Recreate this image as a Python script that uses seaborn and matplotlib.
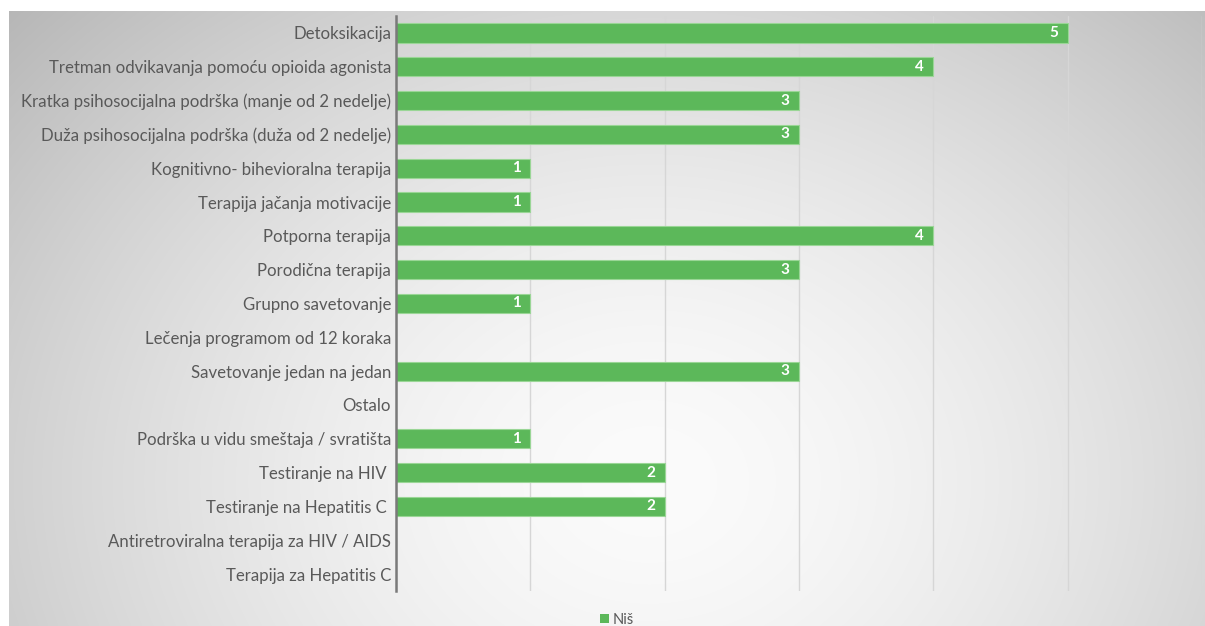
import numpy as np
import pandas as pd
import matplotlib
matplotlib.use("Agg")
import matplotlib.pyplot as plt
from matplotlib.patches import Patch
import seaborn as sns

categories = [
    "Detoksikacija",
    "Tretman odvikavanja pomoću opioida agonista",
    "Kratka psihosocijalna podrška (manje od 2 nedelje)",
    "Duža psihosocijalna podrška (duža od 2 nedelje)",
    "Kognitivno- bihevioralna terapija",
    "Terapija jačanja motivacije",
    "Potporna terapija",
    "Porodična terapija",
    "Grupno savetovanje",
    "Lečenja programom od 12 koraka",
    "Savetovanje jedan na jedan",
    "Ostalo",
    "Podrška u vidu smeštaja / svratišta",
    "Testiranje na HIV ",
    "Testiranje na Hepatitis C ",
    "Antiretroviralna terapija za HIV / AIDS",
    "Terapija za Hepatitis C",
]
values_nis = [5, 4, 3, 3, 1, 1, 4, 3, 1, np.nan, 3, np.nan, 1, 2, 2, np.nan, np.nan]
series_name = "Niš"

df = pd.DataFrame({"kategorija": categories, "broj": values_nis})

sns.set_theme(style="white")
plt.rcParams["font.family"] = ["Lato", "DejaVu Sans"]

W, H = 1205, 626
fig = plt.figure(figsize=(W / 100, H / 100), dpi=100)
fig.patch.set_facecolor("white")

# radial grey-to-white backdrop of the chart area
bg = fig.add_axes([9 / W, 0, 1 - 9 / W, 1 - 11 / H])
bg.set_axis_off()
yy, xx = np.mgrid[0:615, 0:1196]
cx, cy = 640, 470
d = np.sqrt(((xx - cx) / 760.0) ** 2 + ((yy - cy) / 620.0) ** 2)
shade = 0.985 - 0.22 * np.clip(d, 0, 1.2) ** 1.6
img = np.dstack([shade, shade, shade])
bg.imshow(img, aspect="auto", extent=[0, 1, 0, 1], origin="upper", interpolation="bilinear")
bg.set_xlim(0, 1)
bg.set_ylim(0, 1)

ax = fig.add_axes([396 / W, 1 - 591 / H, (1202 - 396) / W, (591 - 16) / H])
ax.patch.set_alpha(0)

green = "#5cb85a"
sns.barplot(data=df, y="kategorija", x="broj", order=categories, orient="h",
            color=green, saturation=1, width=0.57, edgecolor="#9ad696",
            linewidth=0.8, ax=ax, errorbar=None)

ax.set_xlim(0, 6)
ax.set_xticks(range(0, 7))
ax.xaxis.grid(True, color="#d6d6d6", linewidth=1)
ax.set_axisbelow(True)
ax.tick_params(axis="x", bottom=False, labelbottom=False)
ax.tick_params(axis="y", left=False, length=0, labelsize=12.1,
               labelcolor="#595959", pad=3.5)
ax.set_xlabel("")
ax.set_ylabel("")
for s in ["top", "right", "bottom"]:
    ax.spines[s].set_visible(False)
ax.spines["left"].set_color("#7a7a7a")
ax.spines["left"].set_linewidth(1.8)

for i, v in enumerate(values_nis):
    if np.isfinite(v):
        ax.text(v - 0.07, i, f"{int(v)}", ha="right", va="center",
                color="white", fontsize=11, fontweight="bold")

fig.legend(handles=[Patch(facecolor=green, edgecolor="none")], labels=[series_name],
           loc="center", bbox_to_anchor=(617 / W, 1 - 620 / H), frameon=False,
           fontsize=10.5, labelcolor="#595959", handlelength=0.6, handleheight=0.6,
           handletextpad=0.3)

fig.savefig("out.png", dpi=100)
